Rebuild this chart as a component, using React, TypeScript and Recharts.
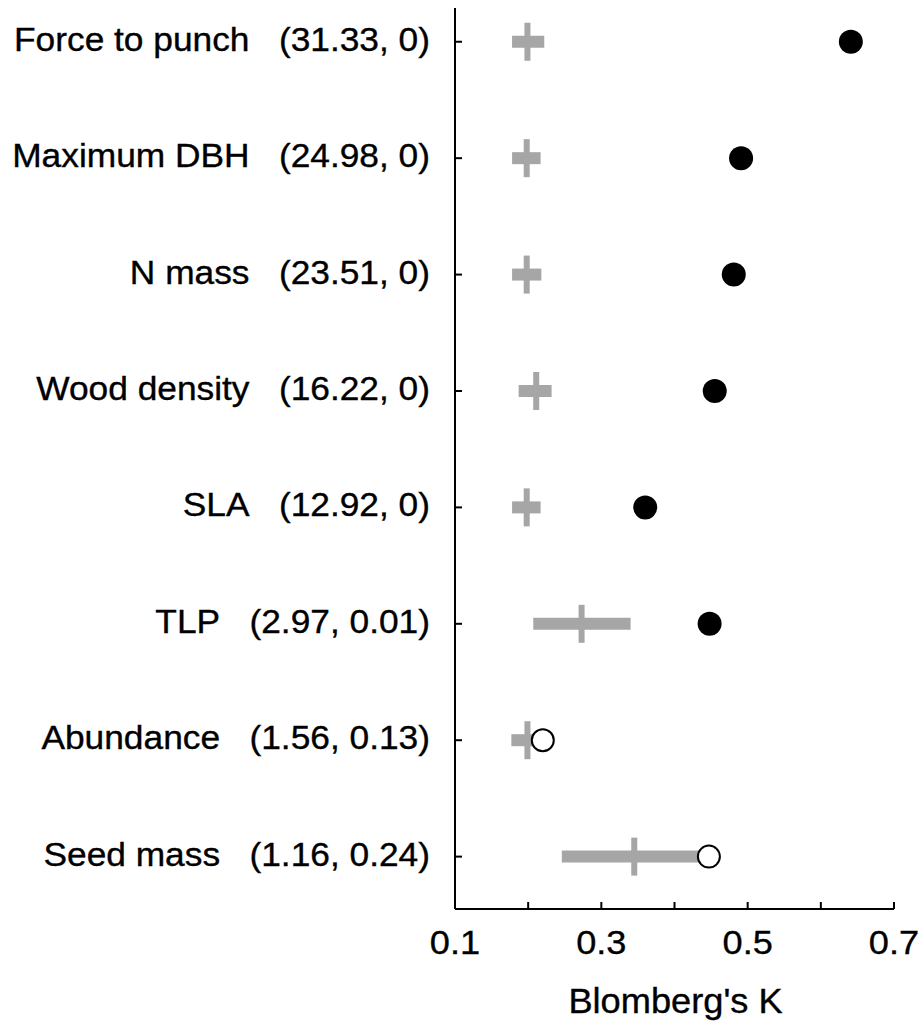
import React from "react";
import { ScatterChart, Scatter, XAxis, YAxis, ErrorBar } from "recharts";

// traits, top to bottom
const traits = [
  "Force to punch",
  "Maximum DBH",
  "N mass",
  "Wood density",
  "SLA",
  "TLP",
  "Abundance",
  "Seed mass",
];
const zValues = ["31.33", "24.98", "23.51", "16.22", "12.92", "2.97", "1.56", "1.16"];
const pValues = ["0", "0", "0", "0", "0", "0.01", "0.13", "0.24"];

// observed Blomberg's K
const observedK = [0.641, 0.491, 0.481, 0.455, 0.36, 0.448, 0.22, 0.447];
// null distribution: mean and range
const nullMean = [0.199, 0.198, 0.198, 0.211, 0.198, 0.273, 0.199, 0.345];
const nullLow = [0.178, 0.178, 0.178, 0.187, 0.178, 0.207, 0.177, 0.246];
const nullHigh = [0.222, 0.217, 0.218, 0.232, 0.217, 0.34, 0.215, 0.44];

const xTicks = [0.1, 0.2, 0.3, 0.4, 0.5, 0.6, 0.7];
const xTickLabels = ["0.1", "", "0.3", "", "0.5", "", "0.7"];
const yTicks = [1, 2, 3, 4, 5, 6, 7, 8];

const FONT = "'Liberation Sans', Arial, Helvetica, sans-serif";
const GREY = "#a6a6a6";

const nullData = traits.map((t, i) => ({
  y: i + 1,
  x: nullMean[i],
  err: [nullMean[i] - nullLow[i], nullHigh[i] - nullMean[i]],
}));

const obsData = traits.map((t, i) => ({
  y: i + 1,
  x: observedK[i],
  sig: Number(pValues[i]) < 0.05,
}));

function YTick(props: any) {
  const { x, y, payload } = props;
  const i = payload.value - 1;
  return (
    <g>
      <line x1={x} x2={x + 7} y1={y} y2={y} stroke="#000" strokeWidth={2} />
      <text
        transform={`translate(${x - 25},${y + 9}) scale(1.08,1)`}
        textAnchor="end"
        fontSize={32.7}
        fontFamily={FONT}
        fill="#000"
        stroke="#000"
        strokeWidth={0.35}
      >
        {`${traits[i]}\u00a0\u00a0\u00a0(${zValues[i]}, ${pValues[i]})`}
      </text>
    </g>
  );
}

function XTick(props: any) {
  const { x, y, index } = props;
  return (
    <g>
      <line x1={x} x2={x} y1={y} y2={y - 7} stroke="#000" strokeWidth={2} />
      <text
        transform={`translate(${x},${y + 45}) scale(1.08,1)`}
        textAnchor="middle"
        fontSize={33.5}
        fontFamily={FONT}
        fill="#000"
        stroke="#000"
        strokeWidth={0.35}
      >
        {xTickLabels[index]}
      </text>
    </g>
  );
}

function NullMark(props: any) {
  const { cx, cy } = props;
  return <rect x={cx - 3} y={cy - 19} width={6} height={38} fill={GREY} />;
}

function ObsMark(props: any) {
  const { cx, cy, payload } = props;
  return (
    <circle
      cx={cx}
      cy={cy}
      r={payload.sig ? 12 : 11}
      fill={payload.sig ? "#000" : "#fff"}
      stroke="#000"
      strokeWidth={payload.sig ? 0 : 2}
    />
  );
}

function AxisTitle(props: any) {
  const { viewBox } = props;
  return (
    <text
      transform={`translate(${viewBox.x + viewBox.width / 2 + 1},${viewBox.y + 104}) scale(1.05,1)`}
      textAnchor="middle"
      fontSize={34.5}
      fontFamily={FONT}
      fill="#000"
      stroke="#000"
      strokeWidth={0.35}
    >
      Blomberg's K
    </text>
  );
}

export default function App() {
  return (
    <div style={{ position: "absolute", left: 0, top: 0, background: "#fff" }}>
      <ScatterChart
        width={922}
        height={1023}
        margin={{ top: 8, right: 28, bottom: 0, left: 0 }}
      >
        <XAxis
          type="number"
          dataKey="x"
          domain={[0.1, 0.7]}
          ticks={xTicks}
          interval={0}
          height={114}
          tickSize={0}
          tickMargin={0}
          tickLine={false}
          axisLine={{ stroke: "#000", strokeWidth: 2 }}
          tick={<XTick />}
          label={{ value: "Blomberg's K", content: <AxisTitle /> }}
        />
        <YAxis
          type="number"
          dataKey="y"
          domain={[0.71, 8.45]}
          reversed
          ticks={yTicks}
          interval={0}
          width={455}
          tickSize={0}
          tickMargin={0}
          tickLine={false}
          axisLine={{ stroke: "#000", strokeWidth: 2 }}
          tick={<YTick />}
          allowDataOverflow
        />
        <Scatter data={nullData} shape={<NullMark />} isAnimationActive={false}>
          <ErrorBar
            dataKey="err"
            direction="x"
            width={0}
            stroke={GREY}
            strokeWidth={12}
            isAnimationActive={false}
          />
        </Scatter>
        <Scatter data={obsData} shape={<ObsMark />} isAnimationActive={false} />
      </ScatterChart>
    </div>
  );
}
